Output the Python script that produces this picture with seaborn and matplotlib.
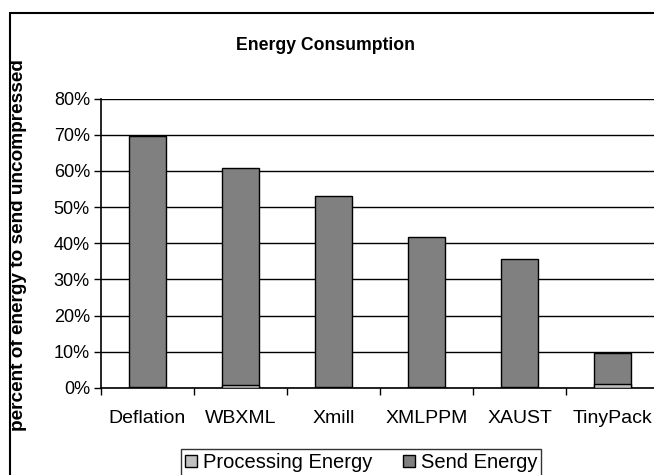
import pandas as pd
import matplotlib
matplotlib.use("Agg")
import matplotlib.pyplot as plt
import seaborn as sns
from matplotlib.patches import Rectangle, Patch
from matplotlib.ticker import PercentFormatter

# values (percent of energy to send uncompressed)
categories = ["Deflation", "WBXML", "Xmill", "XMLPPM", "XAUST", "TinyPack"]
processing = [0.3, 0.9, 0.3, 0.3, 0.3, 1.0]
send = [69.3, 59.9, 52.7, 41.4, 35.4, 8.6]

df = pd.DataFrame({"name": categories, "proc": processing, "send": send})
df["total"] = df["proc"] + df["send"]

sns.set_theme(style="white")
plt.rcParams["font.family"] = ["Liberation Sans", "DejaVu Sans"]
plt.rcParams["text.color"] = "black"
plt.rcParams["xtick.color"] = "black"
plt.rcParams["ytick.color"] = "black"

fig = plt.figure(figsize=(6.54, 4.75), dpi=100)
ax = fig.add_axes([101 / 654, 87 / 475, 558 / 654, 289.5 / 475])

# stacked bars: send energy on top of processing energy
sns.barplot(data=df, x="name", y="total", color="#808080", width=0.4,
            edgecolor="black", linewidth=1, saturation=1, ax=ax, zorder=3)
sns.barplot(data=df, x="name", y="proc", color="#c0c0c0", width=0.4,
            edgecolor="black", linewidth=1, saturation=1, ax=ax, zorder=4)

ax.set_xlim(-0.5, 5.5)
ax.set_ylim(0, 80)
ax.set_yticks(range(0, 81, 10))
ax.yaxis.set_major_formatter(PercentFormatter(decimals=0))
ax.grid(axis="y", color="black", linewidth=1, zorder=0)
ax.set_axisbelow(True)

# category boundaries as ticks, labels in the middle
ax.set_xticks([i - 0.5 for i in range(7)])
ax.set_xticklabels([])
ax.set_xticks(range(6), minor=True)
ax.set_xticklabels(categories, minor=True, fontsize=14)
ax.tick_params(axis="x", which="major", length=5, width=1, color="black", direction="out", bottom=True)
ax.tick_params(axis="x", which="minor", length=0, pad=16)
ax.tick_params(axis="y", length=5, width=1, color="black", direction="out", left=True, labelsize=13, pad=3)

for s in ["top", "right"]:
    ax.spines[s].set_visible(False)
for s in ["left", "bottom"]:
    ax.spines[s].set_color("black")
    ax.spines[s].set_linewidth(1.2)

ax.set_xlabel("")
ax.set_ylabel("")
fig.text(0.497, 0.905, "Energy Consumption", ha="center", va="center",
         fontsize=12.7, fontweight="bold")
fig.text(0.028, 0.484, "percent of energy to send uncompressed", rotation=90,
         ha="center", va="center", fontsize=13.7, fontweight="bold")

handles = [Patch(facecolor="#c0c0c0", edgecolor="black", label="Processing Energy"),
           Patch(facecolor="#808080", edgecolor="black", label="Send Energy")]
leg = fig.legend(handles=handles, loc="upper left", bbox_to_anchor=(181 / 654, 1 - 449 / 475),
                 ncol=2, fontsize=14.5, frameon=True, fancybox=False, handlelength=0.6,
                 handleheight=0.6, handletextpad=0.3, columnspacing=1.5, borderpad=0.2,
                 borderaxespad=0)
leg.get_frame().set_edgecolor("black")
leg.get_frame().set_linewidth(1)

# outer chart border, cropped at right and bottom like the reference
fig.patches.append(Rectangle((10 / 654, -0.1), 1.2, 1 - 13 / 475 + 0.1, transform=fig.transFigure,
                             fill=False, edgecolor="black", linewidth=1.5))

fig.savefig("out.png", dpi=100)
